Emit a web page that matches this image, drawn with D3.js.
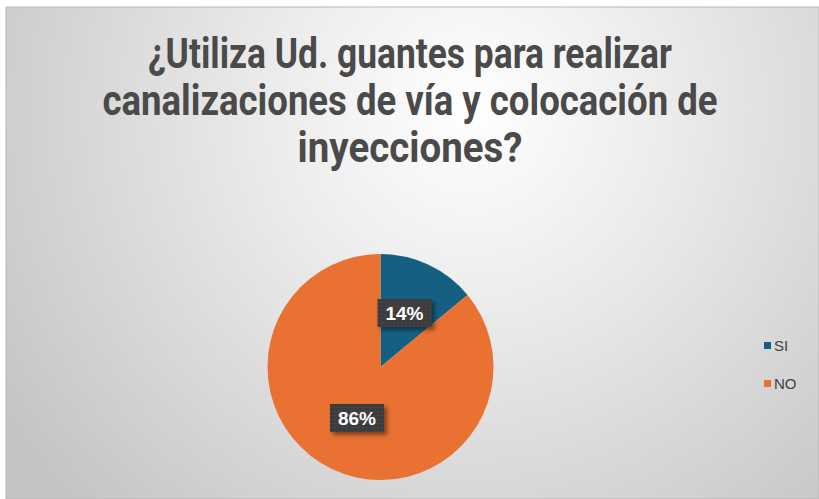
<!DOCTYPE html>
<html>
<head>
<meta charset="utf-8">
<script src="https://cdn.jsdelivr.net/npm/d3@7"></script>
<style>
  body { margin: 0; background: #ffffff; }
  svg { display: block; }
</style>
</head>
<body>
<script>
// chart data
var categories = ["SI", "NO"];
var values = [14, 86];
var colors = ["#156082", "#E97132"];
var titleLines = ["¿Utiliza Ud. guantes para realizar", "canalizaciones de vía y colocación de", "inyecciones?"];
var titleWidths = [524, 615, 225];

var W = 819, H = 499;

var svg = d3.select("body").append("svg")
    .attr("width", W)
    .attr("height", H);

var defs = svg.append("defs");

// background gradient
var grad = defs.append("radialGradient")
    .attr("id", "bg")
    .attr("gradientUnits", "userSpaceOnUse")
    .attr("cx", 470).attr("cy", 110).attr("r", 560);
grad.append("stop").attr("offset", "0%").attr("stop-color", "#ffffff");
grad.append("stop").attr("offset", "35%").attr("stop-color", "#ececec");
grad.append("stop").attr("offset", "100%").attr("stop-color", "#c4c4c4");

// dotted pattern for label boxes
var pat = defs.append("pattern")
    .attr("id", "dots")
    .attr("width", 4).attr("height", 4)
    .attr("patternUnits", "userSpaceOnUse");
pat.append("rect").attr("width", 4).attr("height", 4).attr("fill", "#3d3d3d");
pat.append("rect").attr("x", 1).attr("y", 1).attr("width", 1).attr("height", 1).attr("fill", "#555555");

var shadow = defs.append("filter").attr("id", "shadow")
    .attr("x", "-30%").attr("y", "-30%").attr("width", "170%").attr("height", "180%");
shadow.append("feDropShadow")
    .attr("dx", 3).attr("dy", 3).attr("stdDeviation", 2)
    .attr("flood-color", "#000").attr("flood-opacity", 0.45);

// chart frame
svg.append("rect")
    .attr("x", 6).attr("y", 7)
    .attr("width", W - 6).attr("height", H - 7)
    .attr("fill", "url(#bg)")
    .attr("stroke", "#b8b8b8")
    .attr("stroke-width", 1);

// title
svg.append("g").selectAll("text")
    .data(titleLines)
    .enter()
    .append("text")
    .attr("x", 410)
    .attr("y", function(d, i) { return 68 + i * 47; })
    .attr("text-anchor", "middle")
    .attr("font-family", "'Liberation Sans Narrow', 'Roboto', sans-serif")
    .attr("font-weight", "bold")
    .attr("font-size", "42px")
    .attr("fill", "#4a4a4a")
    .attr("textLength", function(d, i) { return titleWidths[i]; })
    .attr("lengthAdjust", "spacingAndGlyphs")
    .text(function(d) { return d; });

// pie
var cx = 380.5, cy = 367, radius = 113;
var pie = d3.pie().sort(null).value(function(d) { return d; });
var arc = d3.arc().innerRadius(0).outerRadius(radius);
var arcs = pie(values);

var g = svg.append("g").attr("transform", "translate(" + cx + "," + cy + ")");
g.selectAll("path")
    .data(arcs)
    .enter()
    .append("path")
    .attr("d", arc)
    .attr("fill", function(d, i) { return colors[i]; });

// data labels
var labelPos = [[24, -54], [-23.5, 51]];
var labels = g.selectAll("g.lbl")
    .data(arcs)
    .enter()
    .append("g")
    .attr("class", "lbl")
    .attr("transform", function(d, i) { return "translate(" + labelPos[i][0] + "," + labelPos[i][1] + ")"; });

labels.append("rect")
    .attr("x", -27).attr("y", -14)
    .attr("width", 54).attr("height", 28)
    .attr("fill", "url(#dots)")
    .attr("filter", "url(#shadow)");

labels.append("text")
    .attr("text-anchor", "middle")
    .attr("dy", "0.36em")
    .attr("font-family", "'Liberation Sans', Arial, sans-serif")
    .attr("font-weight", "bold")
    .attr("font-size", "19px")
    .attr("fill", "#ffffff")
    .text(function(d) { return d.data + "%"; });

// legend
var legend = svg.append("g").selectAll("g")
    .data(categories)
    .enter()
    .append("g")
    .attr("transform", function(d, i) { return "translate(764," + (342 + i * 38) + ")"; });

legend.append("rect")
    .attr("width", 7).attr("height", 7)
    .attr("fill", function(d, i) { return colors[i]; });

legend.append("text")
    .attr("x", 10).attr("y", 8.5)
    .attr("font-family", "'Liberation Sans', Arial, sans-serif")
    .attr("font-size", "15px")
    .attr("fill", "#404040")
    .text(function(d) { return d; });
</script>
</body>
</html>
